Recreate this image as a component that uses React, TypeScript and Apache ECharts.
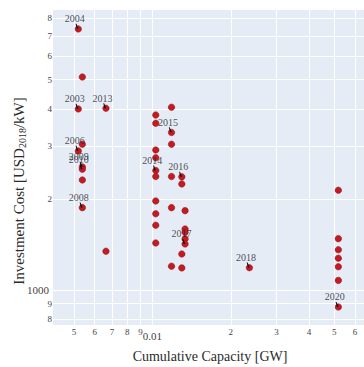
import React, { useEffect, useRef } from 'react';
import * as echarts from 'echarts';

// Cumulative capacity [GW] and investment cost [USD2018/kW] per observation
const capacityGW = [
  0.00519, 0.00538, 0.00519, 0.00663, 0.00519, 0.00538, 0.00538, 0.00538, 0.00538, 0.00538, 0.00663,
  0.0103, 0.0103, 0.0103, 0.0103, 0.0103, 0.0103, 0.0103, 0.0103, 0.0103, 0.0103,
  0.01184, 0.01184, 0.01184, 0.01184, 0.01184, 0.01184,
  0.01297, 0.01297, 0.01297, 0.01297,
  0.01335, 0.01335, 0.01335, 0.01335, 0.01335,
  0.02358,
  0.0518, 0.0518, 0.0518, 0.0518, 0.0518, 0.0518, 0.0518,
];
const costUSD = [
  7375, 5105, 3997, 4018, 2897, 3050, 2563, 2518, 2320, 1877, 1344,
  3815, 3581, 2919, 2750, 2495, 2383, 1975, 1791, 1640, 1432,
  4049, 3338, 3050, 2383, 1877, 1198,
  2376, 2250, 1316, 1183,
  1834, 1594, 1555, 1477, 1421,
  1185,
  2144, 1480, 1360, 1274, 1194, 1075, 877,
];
const yearLabels = [
  '2004', '', '2003', '2013', '2006', '', '2009', '2010', '', '2008', '',
  '', '', '', '', '2014', '', '', '', '', '',
  '', '2015', '', '', '', '',
  '2016', '', '', '',
  '', '', '', '', '2017',
  '2018',
  '', '', '', '', '', '', '2020',
];

const xTickValues = [0.005, 0.006, 0.007, 0.008, 0.009, 0.01, 0.02, 0.03, 0.04, 0.05, 0.06];
const yTickValues = [800, 900, 1000, 2000, 3000, 4000, 5000, 6000, 7000, 8000];

const SERIF = '"Liberation Serif", "DejaVu Serif", serif';
const TICK_COLOR = '#444';

function isPowerOfTen(v: number) {
  const l = Math.log10(v);
  return Math.abs(l - Math.round(l)) < 1e-6;
}
function leadingDigit(v: number) {
  const e = Math.floor(Math.log10(v) + 1e-9);
  return Math.round(v / Math.pow(10, e));
}
function tickFormatter(v: number) {
  if (isPowerOfTen(v)) return `{maj|${Number(v.toPrecision(6))}}`;
  return `{min|${leadingDigit(v)}}`;
}

export default function App() {
  const ref = useRef<HTMLDivElement>(null);

  useEffect(() => {
    if (!ref.current) return;
    const chart = echarts.init(ref.current, undefined, { renderer: 'svg' });

    const points = capacityGW.map((x, i) => [x, costUSD[i]]);
    const annotated = capacityGW
      .map((x, i) => ({ value: [x, costUSD[i]], name: yearLabels[i] }))
      .filter((d) => d.name !== '');

    chart.setOption({
      animation: false,
      backgroundColor: '#ffffff',
      grid: {
        left: 53,
        top: 10,
        width: 321,
        height: 315,
        show: true,
        backgroundColor: '#E5ECF6',
        borderWidth: 0,
      },
      xAxis: {
        type: 'log',
        logBase: 10,
        min: 0.00415,
        max: 0.065,
        axisLine: { show: false },
        axisTick: { show: false, customValues: xTickValues },
        splitLine: { show: true, lineStyle: { color: '#ffffff', width: 1 } },
        axisLabel: {
          customValues: xTickValues,
          formatter: tickFormatter,
          margin: 2,
          rich: {
            min: { fontSize: 9, lineHeight: 10, color: TICK_COLOR, fontFamily: SERIF },
            maj: { fontSize: 11, lineHeight: 12, color: TICK_COLOR, fontFamily: SERIF, padding: [6, 0, 0, 0] },
          },
        },
      },
      yAxis: {
        type: 'log',
        logBase: 10,
        min: 764,
        max: 8528,
        axisLine: { show: false },
        axisTick: { show: false, customValues: yTickValues },
        splitLine: { show: true, lineStyle: { color: '#ffffff', width: 1 } },
        axisLabel: {
          customValues: yTickValues,
          formatter: tickFormatter,
          margin: 1,
          rich: {
            min: { fontSize: 9, lineHeight: 10, color: TICK_COLOR, fontFamily: SERIF },
            maj: { fontSize: 11, lineHeight: 12, color: TICK_COLOR, fontFamily: SERIF, padding: [0, 3, 0, 0] },
          },
        },
      },
      graphic: [
        {
          type: 'text',
          x: 210,
          y: 356,
          style: {
            text: 'Cumulative Capacity [GW]',
            font: `14px ${SERIF}`,
            fill: '#2b2b2b',
            align: 'center',
            verticalAlign: 'middle',
          },
        },
        {
          type: 'text',
          x: 19,
          y: 191,
          rotation: Math.PI / 2,
          style: {
            text: '{a|Investment Cost [USD}{s|2018}{a|/kW]}',
            align: 'center',
            verticalAlign: 'middle',
            rich: {
              a: { fontSize: 15, fontFamily: SERIF, fill: '#2b2b2b', color: '#2b2b2b' },
              s: { fontSize: 10, fontFamily: SERIF, fill: '#2b2b2b', color: '#2b2b2b', padding: [7, 0, 0, 0] },
            },
          },
        },
      ],
      series: [
        {
          type: 'scatter',
          data: points,
          symbolSize: 6.5,
          itemStyle: { color: '#c41a22', borderColor: '#8a0d12', borderWidth: 0.5, opacity: 1 },
          z: 2,
          silent: true,
        },
        {
          type: 'scatter',
          data: annotated,
          symbol: 'path://M0 0 L3 0 L10 20 L4 20 Z',
          symbolKeepAspect: false,
          symbolSize: [3, 5],
          symbolOffset: [-1.2, -2.6],
          itemStyle: { color: '#111', opacity: 1 },
          z: 3,
          silent: true,
        },
        {
          type: 'scatter',
          data: annotated,
          symbolSize: 1,
          itemStyle: { color: 'rgba(0,0,0,0)' },
          label: {
            show: true,
            position: 'inside',
            offset: [-3.5, -10],
            formatter: '{b}',
            fontSize: 10,
            fontFamily: SERIF,
            color: '#222',
          },
          z: 4,
          silent: true,
        },
      ],
    });

    return () => chart.dispose();
  }, []);

  return (
    <div
      ref={ref}
      style={{ position: 'absolute', left: 0, top: 0, width: 364, height: 367 }}
    />
  );
}
